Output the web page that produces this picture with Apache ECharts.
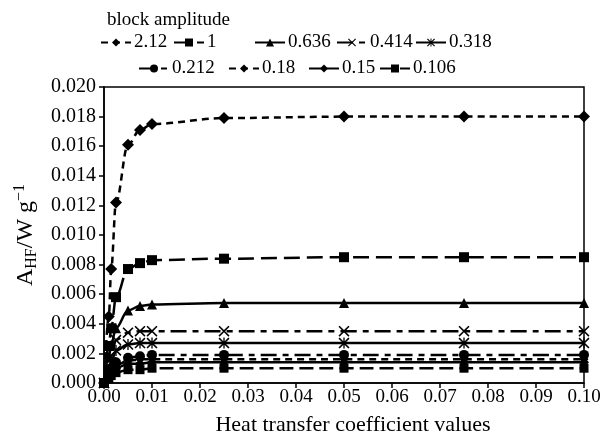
<!DOCTYPE html>
<html>
<head>
<meta charset="utf-8">
<script src="https://cdn.jsdelivr.net/npm/echarts@6/dist/echarts.min.js"></script>
<style>
  html, body { margin: 0; padding: 0; background: #fff; }
  #chart { width: 605px; height: 437px; }
</style>
</head>
<body>
<div id="chart"></div>
<script>
// heat transfer coefficient values (x) shared by all series
var xValues = [0, 0.001, 0.0015, 0.0025, 0.005, 0.0075, 0.01, 0.025, 0.05, 0.075, 0.1];

// A_HF for each block amplitude
var amp212  = [0, 0.0045, 0.0077, 0.0122, 0.0161, 0.0171, 0.0175, 0.0179, 0.0180, 0.0180, 0.0180];
var amp1    = [0, 0.0025, 0.0037, 0.0058, 0.0077, 0.0081, 0.0083, 0.0084, 0.0085, 0.0085, 0.0085];
var amp0636 = [0, 0.0017, 0.0026, 0.0037, 0.0049, 0.0052, 0.0053, 0.0054, 0.0054, 0.0054, 0.0054];
var amp0414 = [0, 0.0011, 0.0018, 0.0029, 0.0034, 0.0035, 0.0035, 0.0035, 0.0035, 0.0035, 0.0035];
var amp0318 = [0, 0.0009, 0.0014, 0.0022, 0.0026, 0.0027, 0.0027, 0.0027, 0.0027, 0.0027, 0.0027];
var amp0212 = [0, 0.0006, 0.0009, 0.0014, 0.0017, 0.0018, 0.0019, 0.0019, 0.0019, 0.0019, 0.0019];
var amp018  = [0, 0.0005, 0.0008, 0.0012, 0.0015, 0.0016, 0.0016, 0.0016, 0.0016, 0.0016, 0.0016];
var amp015  = [0, 0.0004, 0.0007, 0.0010, 0.0013, 0.0013, 0.0014, 0.0014, 0.0014, 0.0014, 0.0014];
var amp0106 = [0, 0.0003, 0.0005, 0.0007, 0.0009, 0.0009, 0.0010, 0.0010, 0.0010, 0.0010, 0.0010];

var seriesNames = ['2.12', '1', '0.636', '0.414', '0.318', '0.212', '0.18', '0.15', '0.106'];
var seriesValues = [amp212, amp1, amp0636, amp0414, amp0318, amp0212, amp018, amp015, amp0106];

var yTicks = ['0.000', '0.002', '0.004', '0.006', '0.008', '0.010', '0.012', '0.014', '0.016', '0.018', '0.020'];
var xTicks = ['0.00', '0.01', '0.02', '0.03', '0.04', '0.05', '0.06', '0.07', '0.08', '0.09', '0.10'];

// filled marker shapes for the cross and the asterisk
var crossPath = 'path://M0,1L1,0L5,4L9,0L10,1L6,5L10,9L9,10L5,6L1,10L0,9L4,5Z';
var starPath = 'path://M0,1L1,0L5,4L9,0L10,1L6,5L10,9L9,10L5,6L1,10L0,9L4,5Z' +
    'M4.4,0L5.6,0L5.6,10L4.4,10Z';

// look of each line: dash pattern, marker
var styles = [
    { dash: [7, 5],          symbol: 'diamond',  size: 12 },
    { dash: [16, 7],         symbol: 'rect',     size: 10 },
    { dash: 'solid',         symbol: 'triangle', size: 10 },
    { dash: [16, 6, 6, 6],   symbol: crossPath,  size: 11 },
    { dash: 'solid',         symbol: starPath,   size: 11 },
    { dash: [16, 6, 6, 6],   symbol: 'circle',   size: 10 },
    { dash: [7, 5],          symbol: 'diamond',  size: 9 },
    { dash: 'solid',         symbol: 'diamond',  size: 10 },
    { dash: [14, 6],         symbol: 'rect',     size: 9 }
];

// legend item placement, mimicking the two rows of the original
var legendPos = [
    [100, 33], [173, 33], [254, 33], [336, 33], [415, 33],
    [138, 59], [228, 59], [308, 59], [379, 59]
];

var font = 'Liberation Serif';

var myChart = echarts.init(document.getElementById('chart'), null, { renderer: 'canvas' });

var series = seriesNames.map(function (name, i) {
    var st = styles[i];
    return {
        name: name,
        type: 'line',
        data: xValues.map(function (x, j) { return [x, seriesValues[i][j]]; }),
        smooth: 0.35,
        smoothMonotone: 'x',
        symbol: st.symbol,
        symbolSize: st.size,
        showAllSymbol: true,
        lineStyle: { color: '#000', width: 2.5, type: st.dash },
        itemStyle: { color: '#000', borderWidth: 0 },
        emphasis: { disabled: true },
        animation: false
    };
});

var legends = seriesNames.map(function (name, i) {
    return {
        data: [name],
        left: legendPos[i][0],
        top: legendPos[i][1],
        padding: 0,
        itemWidth: 30,
        itemHeight: 10,
        textStyle: { fontFamily: font, fontSize: 19, color: '#000', padding: [0, 0, 0, -2] },
        selectedMode: false
    };
});

var option = {
    backgroundColor: '#fff',
    title: {
        text: 'block amplitude',
        left: 102,
        top: 6,
        textStyle: { fontFamily: font, fontSize: 19, fontWeight: 'normal', color: '#000' }
    },
    legend: legends,
    grid: {
        left: 104, right: 21, top: 87, bottom: 54,
        outerBoundsMode: 'none',
        containLabel: false,
        show: true, borderColor: '#000', borderWidth: 1.5
    },
    xAxis: {
        type: 'value',
        min: 0, max: 0.1, interval: 0.01,
        name: 'Heat transfer coefficient values',
        nameLocation: 'middle',
        nameGap: 31,
        nameTextStyle: { fontFamily: font, fontSize: 22, color: '#000', padding: [0, 0, 0, 18] },
        axisLine: { lineStyle: { color: '#000', width: 1.5 } },
        axisTick: { length: 5, lineStyle: { color: '#000', width: 1.5 } },
        axisLabel: {
            fontFamily: font, fontSize: 19, color: '#000', margin: 5,
            formatter: function (v) { return xTicks[Math.round(v * 100)]; }
        },
        splitLine: { show: false }
    },
    yAxis: {
        type: 'value',
        min: 0, max: 0.02, interval: 0.002,
        name: '{a|A}{sub|HF}{a|/W g}{sup|−1}',
        nameLocation: 'middle',
        nameRotate: 90,
        nameGap: 64,
        nameTextStyle: {
            fontFamily: font, color: '#000',
            rich: {
                a: { fontFamily: font, fontSize: 24, color: '#000', lineHeight: 28 },
                sub: { fontFamily: font, fontSize: 16, color: '#000', verticalAlign: 'bottom', lineHeight: 16, padding: [12, 0, 0, 0] },
                sup: { fontFamily: font, fontSize: 16, color: '#000', verticalAlign: 'top', lineHeight: 16, padding: [0, 0, 12, 0] }
            }
        },
        axisLine: { lineStyle: { color: '#000', width: 1.5 } },
        axisTick: { length: 5, lineStyle: { color: '#000', width: 1.5 } },
        axisLabel: {
            fontFamily: font, fontSize: 20, color: '#000', margin: 8,
            formatter: function (v) { return yTicks[Math.round(v * 500)]; }
        },
        splitLine: { show: false }
    },
    series: series,
    animation: false
};

myChart.setOption(option);
</script>
</body>
</html>
